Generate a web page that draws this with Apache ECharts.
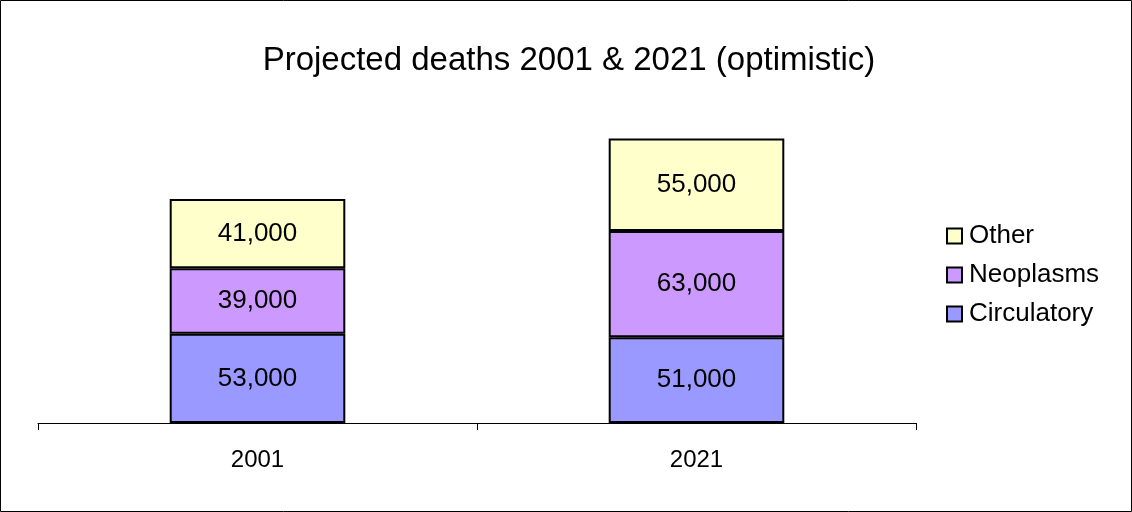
<!DOCTYPE html>
<html><head><meta charset="utf-8">
<script src="https://cdn.jsdelivr.net/npm/echarts@6/dist/echarts.min.js"></script>
<style>html,body{margin:0;padding:0;background:#fff}#c{width:1132px;height:512px}</style>
</head><body><div id="c"></div>
<script>
const categories = ['2001', '2021'];
const circulatory = [53000, 51000];
const neoplasms = [39000, 63000];
const other = [41000, 55000];
const seriesNames = ['Circulatory', 'Neoplasms', 'Other'];
const colors = ['#9999FF', '#CC99FF', '#FFFFCC'];
const values = [circulatory, neoplasms, other];

const chart = echarts.init(document.getElementById('c'));
const font = 'Liberation Sans, Arial, sans-serif';
chart.setOption({
  animation: false,
  title: {
    text: 'Projected deaths 2001 & 2021 (optimistic)',
    left: 564, textAlign: 'center', top: 39,
    textStyle: { fontFamily: font, fontSize: 33, fontWeight: 'normal', color: '#000' }
  },
  graphic: [{
    type: 'rect', shape: { x: 0.5, y: 0.5, width: 1131, height: 511 },
    style: { fill: 'none', stroke: '#000', lineWidth: 1 }, silent: true
  }],
  legend: {
    orient: 'vertical', left: 941, top: 218,
    icon: 'rect', itemWidth: 15, itemHeight: 15, itemGap: 13,
    data: ['Other', 'Neoplasms', 'Circulatory'],
    itemStyle: { borderColor: '#000', borderWidth: 2 },
    textStyle: { fontFamily: font, fontSize: 26, color: '#000', padding: [0, 0, 0, 2] }
  },
  grid: { left: 38, right: 216, top: 120, bottom: 89 },
  xAxis: {
    type: 'category', data: categories,
    axisLine: { lineStyle: { color: '#000', width: 1 } },
    axisTick: { show: true, length: 7, lineStyle: { color: '#000' } },
    axisLabel: { fontFamily: font, fontSize: 24, color: '#000', margin: 25 }
  },
  yAxis: { type: 'value', min: 0, max: 180000, show: false, splitLine: { show: false } },
  series: seriesNames.map((n, i) => ({
    name: n, type: 'bar', stack: 'a', data: values[i], barWidth: '40%',
    itemStyle: { color: colors[i], borderColor: '#000', borderWidth: 2 },
    label: {
      show: true, position: 'inside', fontFamily: font, fontSize: 26, color: '#000',
      formatter: p => p.value.toLocaleString('en-US')
    }
  }))
});
</script></body></html>
